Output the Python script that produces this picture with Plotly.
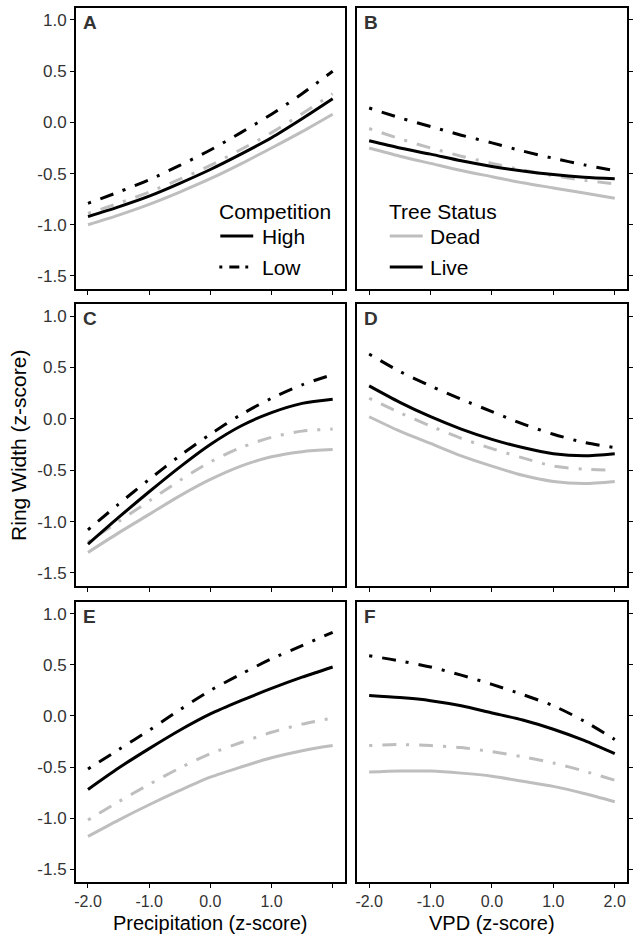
import plotly.graph_objects as go

W, H = 634, 935

# ---------------- data ----------------
x_vals = [-2.0, -1.5, -1.0, -0.5, 0.0, 0.5, 1.0, 1.5, 2.0]

# Panel A: Precipitation (row 1, left)
A_live_high = [-0.92, -0.825, -0.72, -0.595, -0.46, -0.31, -0.15, 0.035, 0.23]
A_live_low = [-0.79, -0.68, -0.56, -0.42, -0.27, -0.10, 0.08, 0.28, 0.50]
A_dead_high = [-1.00, -0.905, -0.80, -0.68, -0.55, -0.405, -0.25, -0.09, 0.08]
A_dead_low = [-0.89, -0.79, -0.68, -0.555, -0.42, -0.265, -0.10, 0.085, 0.28]
# Panel B: VPD (row 1, right)
B_live_high = [-0.18, -0.25, -0.31, -0.375, -0.43, -0.475, -0.51, -0.535, -0.55]
B_live_low = [0.14, 0.045, -0.04, -0.125, -0.20, -0.28, -0.35, -0.415, -0.47]
B_dead_high = [-0.25, -0.33, -0.40, -0.47, -0.53, -0.59, -0.64, -0.69, -0.74]
B_dead_low = [-0.06, -0.16, -0.25, -0.33, -0.40, -0.465, -0.52, -0.565, -0.60]
# Panel C
C_live_high = [-1.22, -0.96, -0.71, -0.47, -0.25, -0.07, 0.06, 0.15, 0.19]
C_live_low = [-1.08, -0.83, -0.59, -0.36, -0.15, 0.04, 0.20, 0.33, 0.43]
C_dead_high = [-1.30, -1.11, -0.93, -0.75, -0.59, -0.46, -0.37, -0.32, -0.30]
C_dead_low = [-1.20, -1.00, -0.80, -0.60, -0.42, -0.28, -0.18, -0.12, -0.10]
# Panel D
D_live_high = [0.32, 0.16, 0.02, -0.10, -0.20, -0.28, -0.34, -0.36, -0.34]
D_live_low = [0.63, 0.46, 0.32, 0.19, 0.07, -0.05, -0.15, -0.23, -0.28]
D_dead_high = [0.02, -0.12, -0.24, -0.36, -0.46, -0.55, -0.61, -0.63, -0.61]
D_dead_low = [0.20, 0.06, -0.07, -0.19, -0.29, -0.38, -0.46, -0.49, -0.50]
# Panel E
E_live_high = [-0.72, -0.51, -0.32, -0.14, 0.02, 0.15, 0.27, 0.38, 0.48]
E_live_low = [-0.52, -0.33, -0.14, 0.06, 0.25, 0.41, 0.56, 0.69, 0.82]
E_dead_high = [-1.18, -1.02, -0.87, -0.73, -0.60, -0.50, -0.41, -0.34, -0.29]
E_dead_low = [-1.02, -0.84, -0.67, -0.51, -0.37, -0.26, -0.16, -0.08, -0.02]
# Panel F
F_live_high = [0.20, 0.18, 0.15, 0.10, 0.03, -0.04, -0.13, -0.24, -0.37]
F_live_low = [0.59, 0.54, 0.48, 0.40, 0.31, 0.21, 0.10, -0.05, -0.23]
F_dead_high = [-0.55, -0.54, -0.54, -0.56, -0.59, -0.64, -0.69, -0.76, -0.84]
F_dead_low = [-0.29, -0.28, -0.29, -0.31, -0.35, -0.40, -0.46, -0.54, -0.63]

panel_letters = ["A", "B", "C", "D", "E", "F"]
x_tick_vals = [-2, -1, 0, 1, 2]
x_tick_text_left = ["-2.0", "-1.0", "0.0", "1.0", ""]
x_tick_text_right = ["-2.0", "-1.0", "0.0", "1.0", "2.0"]
y_tick_vals = [-1.5, -1.0, -0.5, 0.0, 0.5, 1.0]
y_tick_text = ["-1.5", "-1.0", "-0.5", "0.0", "0.5", "1.0"]
x_title_left = "Precipitation (z-score)"
x_title_right = "VPD (z-score)"
y_title = "Ring Width (z-score)"

panels = [
    (A_live_high, A_live_low, A_dead_high, A_dead_low),
    (B_live_high, B_live_low, B_dead_high, B_dead_low),
    (C_live_high, C_live_low, C_dead_high, C_dead_low),
    (D_live_high, D_live_low, D_dead_high, D_dead_low),
    (E_live_high, E_live_low, E_dead_high, E_dead_low),
    (F_live_high, F_live_low, F_dead_high, F_dead_low),
]

# ---------------- styling ----------------
FONT = "Arial, 'Liberation Sans', sans-serif"
BLACK = "#000000"
GRAY = "#bebebe"
LW = 3
DOTDASH = "3px,10px,14px,10px"

col_px = [(74, 344), (356, 627)]
row_px = [(8, 289), (304, 586), (602, 882)]


def fx(p):
    return p / W


def fy(p):
    return 1 - p / H


fig = go.Figure()
layout_axes = {}

for i, (live_high, live_low, dead_high, dead_low) in enumerate(panels):
    r, c = divmod(i, 2)
    n = i + 1
    xa = "x" if n == 1 else f"x{n}"
    ya = "y" if n == 1 else f"y{n}"
    series = [
        (dead_high, GRAY, "solid"),
        (dead_low, GRAY, DOTDASH),
        (live_high, BLACK, "solid"),
        (live_low, BLACK, DOTDASH),
    ]
    for vals, col, dash in series:
        fig.add_trace(go.Scatter(
            x=x_vals, y=vals, mode="lines", xaxis=xa, yaxis=ya,
            line=dict(color=col, width=LW, dash=dash, shape="spline", smoothing=0.8),
            showlegend=False, hoverinfo="skip"))

    x0, x1 = col_px[c]
    y0, y1 = row_px[r]
    common = dict(showline=True, mirror=True, linecolor=BLACK, linewidth=1.5,
                  ticks="outside", ticklen=4, tickwidth=1.2, tickcolor=BLACK,
                  showgrid=False, zeroline=False,
                  tickfont=dict(family=FONT, size=17, color="#333333"))
    xkey = "xaxis" if n == 1 else f"xaxis{n}"
    ykey = "yaxis" if n == 1 else f"yaxis{n}"
    if r == 2:
        ttext = x_tick_text_left if c == 0 else x_tick_text_right
    else:
        ttext = [""] * len(x_tick_vals)
    xcommon = dict(common)
    xcommon["tickfont"] = dict(family=FONT, size=16, color="#333333")
    layout_axes[xkey] = dict(domain=[fx(x0), fx(x1)], anchor=ya, range=[-2.2, 2.2],
                             tickvals=x_tick_vals, ticktext=ttext, ticklabelstandoff=0,
                             **xcommon)
    layout_axes[ykey] = dict(domain=[fy(y1), fy(y0)], anchor=xa, range=[-1.627, 1.117],
                             tickvals=y_tick_vals, ticktext=y_tick_text,
                             side="left" if c == 0 else "right",
                             showticklabels=(c == 0), **common)

fig.update_layout(**layout_axes)

annotations = []
# panel letters
for i, letter in enumerate(panel_letters):
    r, c = divmod(i, 2)
    annotations.append(dict(
        text=f"<b>{letter}</b>", x=fx(col_px[c][0] + 5), y=fy(row_px[r][0] + 14),
        xref="paper", yref="paper", xanchor="left", yanchor="middle", showarrow=False,
        font=dict(family=FONT, size=19, color="#333333")))

# axis titles
title_font = dict(family=FONT, size=21, color=BLACK)
xtitle_font = dict(family=FONT, size=20, color=BLACK)
annotations.append(dict(text=x_title_left, x=fx(209), y=0, xref="paper", yref="paper",
                        xanchor="center", yanchor="bottom", showarrow=False, borderpad=0,
                        font=xtitle_font))
annotations.append(dict(text=x_title_right, x=fx(492), y=0, xref="paper", yref="paper",
                        xanchor="center", yanchor="bottom", showarrow=False, borderpad=0,
                        font=xtitle_font))
annotations.append(dict(text=y_title, x=fx(16), y=fy(445), xref="paper", yref="paper",
                        xanchor="center", yanchor="middle", showarrow=False, textangle=-90,
                        font=title_font))

# legends (drawn inside panels A and B)
legend_font = dict(family=FONT, size=21, color=BLACK)
comp_title = "Competition"
comp_labels = ["High", "Low"]
status_title = "Tree Status"
status_labels = ["Dead", "Live"]

annotations.append(dict(text=comp_title, x=fx(216), y=fy(211), xref="paper", yref="paper",
                        xanchor="left", yanchor="middle", showarrow=False, font=legend_font))
annotations.append(dict(text=status_title, x=fx(386), y=fy(211), xref="paper", yref="paper",
                        xanchor="left", yanchor="middle", showarrow=False, font=legend_font))
for k, lab in enumerate(comp_labels):
    annotations.append(dict(text=lab, x=fx(259), y=fy(236 + 31 * k), xref="paper", yref="paper",
                            xanchor="left", yanchor="middle", showarrow=False, font=legend_font))
for k, lab in enumerate(status_labels):
    annotations.append(dict(text=lab, x=fx(427), y=fy(236 + 31 * k), xref="paper", yref="paper",
                            xanchor="left", yanchor="middle", showarrow=False, font=legend_font))

shapes = [
    dict(type="line", xref="paper", yref="paper", x0=fx(219), x1=fx(252), y0=fy(236), y1=fy(236),
         line=dict(color=BLACK, width=LW)),
    dict(type="line", xref="paper", yref="paper", x0=fx(218), x1=fx(247), y0=fy(267), y1=fy(267),
         line=dict(color=BLACK, width=LW, dash="3px,7px,10px,6px,3px,50px")),
    dict(type="line", xref="paper", yref="paper", x0=fx(389), x1=fx(422), y0=fy(236), y1=fy(236),
         line=dict(color=GRAY, width=LW)),
    dict(type="line", xref="paper", yref="paper", x0=fx(389), x1=fx(422), y0=fy(267), y1=fy(267),
         line=dict(color=BLACK, width=LW)),
]

fig.update_layout(
    width=W, height=H,
    margin=dict(l=0, r=0, t=0, b=0),
    paper_bgcolor="white", plot_bgcolor="white",
    showlegend=False,
    annotations=annotations,
    shapes=shapes,
    font=dict(family=FONT),
)

fig.write_html("out.html")
